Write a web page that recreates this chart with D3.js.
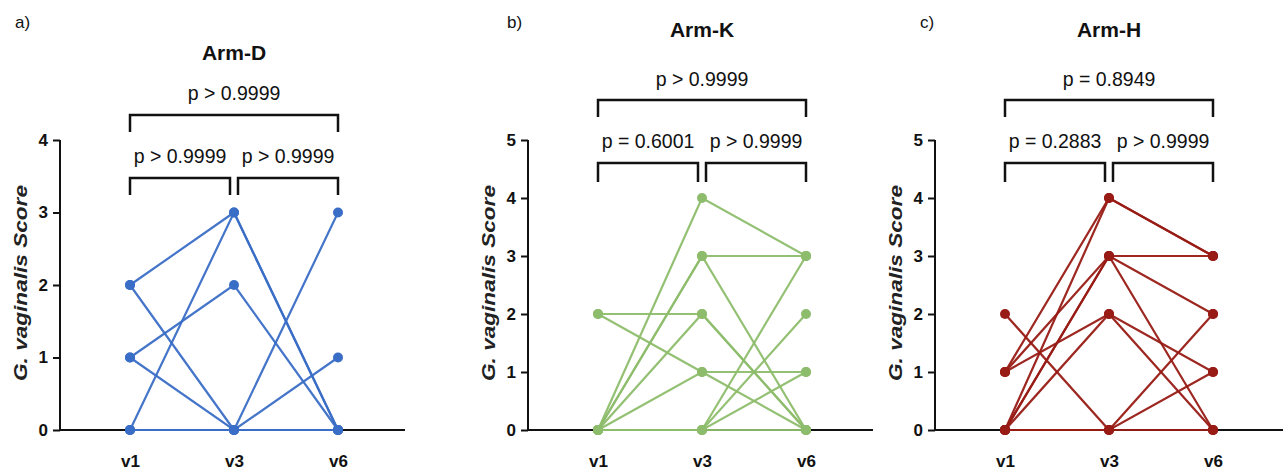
<!DOCTYPE html>
<html>
<head>
<meta charset="utf-8">
<script src="https://cdn.jsdelivr.net/npm/d3@7"></script>
<style>
  body { margin: 0; background: #fff; }
  text { font-family: "Liberation Sans", Arial, sans-serif; }
</style>
</head>
<body>
<svg id="chart" width="1288" height="470"></svg>
<script>
// visits on the x axis
var visits = ["v1", "v3", "v6"];

// one row per subject: score at v1, v3, v6
var armD = [[2,3,0],[2,0,3],[1,2,0],[1,0,1],[0,3,0],[0,0,0],[0,0,0]];
var armK = [[2,2,0],[2,1,0],[0,4,3],[0,3,3],[0,3,0],[0,2,0],[0,1,1],[0,0,3],[0,0,2],[0,0,1],[0,0,0]];
var armH = [[2,0,2],[1,4,3],[1,3,3],[1,2,1],[0,4,3],[0,3,2],[0,3,0],[0,2,0],[0,0,1],[0,0,0]];

var titles = ["Arm-D", "Arm-K", "Arm-H"];
var letters = ["a)", "b)", "c)"];
var yMax = [4, 5, 5];
// p values: [v1-v3, v3-v6, v1-v6]
var pD = ["p > 0.9999", "p > 0.9999", "p > 0.9999"];
var pK = ["p = 0.6001", "p > 0.9999", "p > 0.9999"];
var pH = ["p = 0.2883", "p > 0.9999", "p = 0.8949"];

var colors = ["#3a6ec6", "#8dbd6c", "#981b15"];

var svg = d3.select("#chart");

// panel layout (axis x, end of x axis, title baseline, bracket levels, p text baselines)
var panels = [
  { data: armD, p: pD, ax: 60,  xEnd: 405,  titleY: 60, letterX: 15,  br: [115, 132, 178, 195], pt: [100, 163] },
  { data: armK, p: pK, ax: 528, xEnd: 873,  titleY: 37, letterX: 507, br: [100, 117, 163, 182], pt: [86, 148] },
  { data: armH, p: pH, ax: 935, xEnd: 1283, titleY: 37, letterX: 920, br: [100, 117, 163, 182], pt: [86, 148] }
];

panels.forEach(function(pn, i) {
  var g = svg.append("g");
  var col = colors[i];

  var x = d3.scalePoint().domain(visits).range([pn.ax + 70, pn.ax + 278]);
  var y = d3.scaleLinear().domain([0, yMax[i]]).range([430, 140]);

  // y axis
  var yAxis = g.append("g")
    .attr("transform", "translate(" + pn.ax + ",0)")
    .call(d3.axisLeft(y).ticks(yMax[i]).tickFormat(d3.format("d")).tickSize(7).tickPadding(5));
  yAxis.select(".domain").attr("stroke", "#111").attr("stroke-width", 2).attr("d", "M0," + y(yMax[i]) + "V" + y(0));
  yAxis.selectAll(".tick line").attr("stroke", "#111").attr("stroke-width", 2);
  yAxis.selectAll(".tick text")
    .attr("fill", "#111")
    .style("font-size", "17px")
    .style("font-weight", "bold")
    .style("font-family", "Liberation Sans, Arial, sans-serif");

  // x axis
  var xAxis = g.append("g")
    .attr("transform", "translate(0," + y(0) + ")")
    .call(d3.axisBottom(x).tickSize(5).tickPadding(20));
  xAxis.select(".domain").attr("stroke", "#111").attr("stroke-width", 2).attr("d", "M" + pn.ax + ",0H" + pn.xEnd);
  xAxis.selectAll(".tick line").attr("stroke", "#111").attr("stroke-width", 1.5);
  xAxis.selectAll(".tick text")
    .attr("fill", "#111")
    .style("font-size", "17px")
    .style("font-weight", "bold")
    .style("font-family", "Liberation Sans, Arial, sans-serif");

  // y label
  g.append("text")
    .attr("transform", "translate(" + (pn.ax - 33) + "," + ((y(0) + y(yMax[i])) / 2 - 2) + ") rotate(-90)")
    .attr("text-anchor", "middle")
    .attr("textLength", 196)
    .attr("lengthAdjust", "spacingAndGlyphs")
    .style("font-size", "18px")
    .style("font-weight", "bold")
    .style("font-style", "italic")
    .attr("fill", "#222")
    .text("G. vaginalis Score");

  // subject lines
  var line = d3.line()
    .x(function(d, j) { return x(visits[j]); })
    .y(function(d) { return y(d); });

  g.selectAll(".subj")
    .data(pn.data)
    .enter().append("path")
    .attr("class", "subj")
    .attr("d", line)
    .attr("fill", "none")
    .attr("stroke", col)
    .attr("stroke-width", 2.2)
    .attr("stroke-opacity", 0.95);

  // dots
  var pts = [];
  pn.data.forEach(function(row) {
    row.forEach(function(v, j) { pts.push({ v: visits[j], s: v }); });
  });
  g.selectAll(".dot")
    .data(pts)
    .enter().append("circle")
    .attr("class", "dot")
    .attr("cx", function(d) { return x(d.v); })
    .attr("cy", function(d) { return y(d.s); })
    .attr("r", 5)
    .attr("fill", col);

  // title + letter
  g.append("text")
    .attr("x", x("v3"))
    .attr("y", pn.titleY)
    .attr("text-anchor", "middle")
    .style("font-size", "21px")
    .style("font-weight", "bold")
    .attr("fill", "#111")
    .text(titles[i]);

  g.append("text")
    .attr("x", pn.letterX)
    .attr("y", 28)
    .style("font-size", "17px")
    .attr("fill", "#111")
    .text(letters[i]);

  // significance brackets
  var x1 = x("v1"), x3 = x("v3"), x6 = x("v6");
  var brackets = [
    { a: x1, b: x6, top: pn.br[0], bot: pn.br[1], label: pn.p[2], ty: pn.pt[0] },
    { a: x1, b: x3 - 4, top: pn.br[2], bot: pn.br[3], label: pn.p[0], ty: pn.pt[1] },
    { a: x3 + 4, b: x6, top: pn.br[2], bot: pn.br[3], label: pn.p[1], ty: pn.pt[1] }
  ];
  brackets.forEach(function(b) {
    g.append("path")
      .attr("d", "M" + b.a + "," + b.bot + "V" + b.top + "H" + b.b + "V" + b.bot)
      .attr("fill", "none")
      .attr("stroke", "#111")
      .attr("stroke-width", 2.5);
    g.append("text")
      .attr("x", (b.a + b.b) / 2)
      .attr("y", b.ty)
      .attr("text-anchor", "middle")
      .style("font-size", "19.5px")
      .attr("fill", "#111")
      .text(b.label);
  });
});
</script>
</body>
</html>
